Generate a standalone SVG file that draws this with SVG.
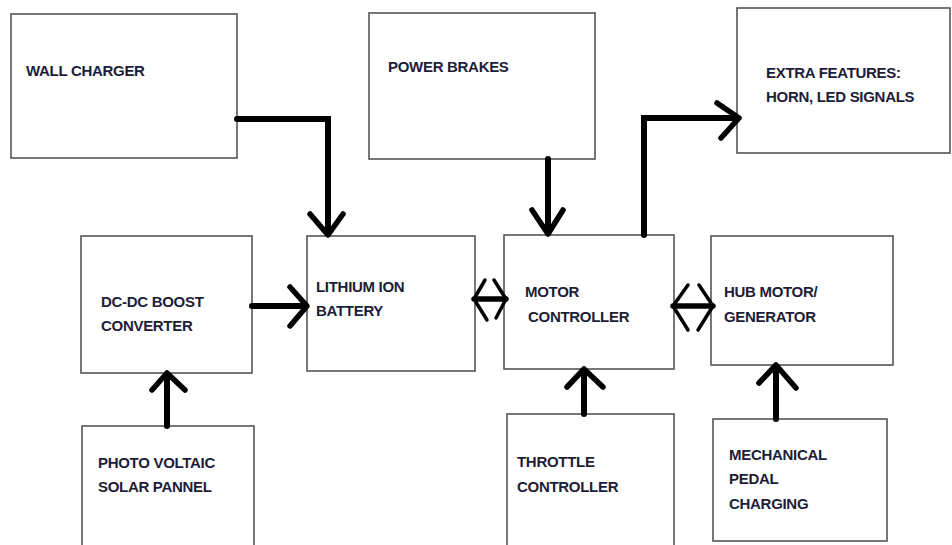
<svg xmlns="http://www.w3.org/2000/svg" width="952" height="545" viewBox="0 0 952 545">
<style>
.box{fill:#fff;stroke:#555;stroke-width:1.6}
.t{font-family:"Liberation Sans",Arial,sans-serif;font-weight:bold;font-size:15px;fill:#1d1d38;letter-spacing:-0.3px}
.c{fill:none;stroke:#000;stroke-width:6;stroke-linecap:round;stroke-linejoin:miter}
.h{fill:none;stroke:#000;stroke-width:5.5;stroke-linecap:round;stroke-linejoin:round}
.hs{fill:none;stroke:#000;stroke-width:3.5;stroke-linecap:round;stroke-linejoin:round}
</style>
<rect width="952" height="545" fill="#fff"/>
<g id="wall-charger"><rect class="box" x="11" y="14" width="226" height="144"/><text class="t" x="26" y="76">WALL CHARGER</text></g>
<g id="power-brakes"><rect class="box" x="369" y="13" width="226" height="146"/><text class="t" x="388" y="72">POWER BRAKES</text></g>
<g id="extra-features"><rect class="box" x="737" y="8" width="213" height="145"/><text class="t" x="766" y="78">EXTRA FEATURES:</text><text class="t" x="766" y="102">HORN, LED SIGNALS</text></g>
<g id="dc-dc"><rect class="box" x="81" y="236" width="171" height="137"/><text class="t" x="101" y="307">DC-DC BOOST</text><text class="t" x="101" y="331">CONVERTER</text></g>
<g id="battery"><rect class="box" x="307" y="236" width="168" height="135"/><text class="t" x="316" y="292">LITHIUM ION</text><text class="t" x="316" y="316">BATTERY</text></g>
<g id="motor-controller"><rect class="box" x="504" y="235" width="170" height="134"/><text class="t" x="525" y="297">MOTOR</text><text class="t" x="528" y="322">CONTROLLER</text></g>
<g id="hub-motor"><rect class="box" x="711" y="236" width="182" height="129"/><text class="t" x="724" y="297">HUB MOTOR/</text><text class="t" x="724" y="322">GENERATOR</text></g>
<g id="solar"><rect class="box" x="82" y="426" width="172" height="125"/><text class="t" x="98" y="468">PHOTO VOLTAIC</text><text class="t" x="98" y="492">SOLAR PANNEL</text></g>
<g id="throttle"><rect class="box" x="507" y="414" width="167" height="137"/><text class="t" x="517" y="467">THROTTLE</text><text class="t" x="517" y="492">CONTROLLER</text></g>
<g id="pedal"><rect class="box" x="713" y="419" width="174" height="122"/><text class="t" x="729" y="460">MECHANICAL</text><text class="t" x="729" y="484">PEDAL</text><text class="t" x="729" y="509">CHARGING</text></g>
<g id="connectors">
<path class="c" d="M237 119 H328 V234"/><path class="h" d="M310 214 L328 235 L343 214"/>
<path class="c" d="M548 159 V233"/><path class="h" d="M532 210 L548 234 L563 210"/>
<path class="c" d="M644 235 V118 H737"/><path class="h" d="M717 103 L739 118 L721 138"/>
<path class="c" d="M252 306 H305"/><path class="h" d="M290 287 L307 306 L290 326"/>
<path class="c" d="M167 426 V375"/><path class="h" d="M152 390 L167 373 L185 390"/>
<path class="c" d="M584 414 V371"/><path class="h" d="M567 387 L584 369 L603 387"/>
<path class="c" d="M776 419 V367"/><path class="h" d="M759 383 L776 365 L796 388"/>
<path class="h" d="M474 299 H506"/><path class="hs" d="M485 280 L474 299 L487 320"/><path class="hs" d="M494 280 L506 299 L496 318"/>
<path class="h" d="M673 306 H713"/><path class="hs" d="M688 285 L673 306 L688 330"/><path class="hs" d="M699 285 L713 306 L698 330"/>
</g>
</svg>
